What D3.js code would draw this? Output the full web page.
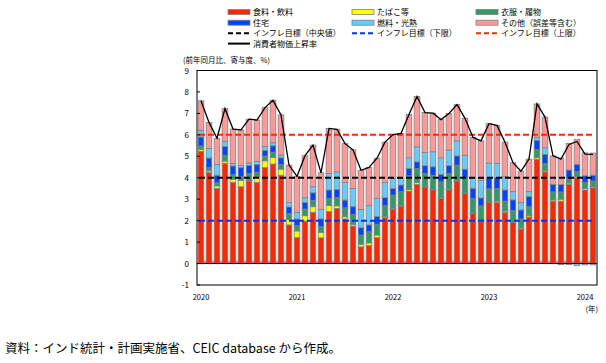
<!DOCTYPE html>
<html>
<head>
<meta charset="utf-8">
<script src="https://cdn.jsdelivr.net/npm/d3@7"></script>
<style>
  body { margin: 0; background: #fff; }
  text { font-family: "Noto Sans CJK JP", "Noto Sans", sans-serif; fill: #000; }
</style>
</head>
<body>
<svg id="chart" width="606" height="363"></svg>
<script>
    // categories / tick labels
    var months = d3.timeMonths(new Date(2020, 0, 1), new Date(2024, 2, 1));
    var yearLabels = ["2020", "2021", "2022", "2023", "2024"];
    var yTicks = [-1, 0, 1, 2, 3, 4, 5, 6, 7, 8, 9];

    // contributions (% pt)
    var food = [5.24,4.25,3.50,4.68,3.78,3.58,3.85,3.78,4.47,4.64,4.12,1.80,
                1.21,1.98,2.39,1.20,2.42,2.57,2.08,1.75,0.78,0.84,1.21,2.14,
                2.54,2.68,3.38,3.69,3.57,3.43,3.04,3.43,3.85,3.26,2.33,1.95,
                2.84,2.84,2.39,1.92,1.61,2.17,4.85,4.28,2.91,2.91,3.69,4.00,
                3.43,3.53];
    var tobacco = [0.09,0.07,0.12,0.10,0.15,0.30,0.04,0.28,0.32,0.30,0.28,0.26,
                   0.31,0.25,0.26,0.25,0.28,0.12,0.10,0.08,0.12,0.12,0.12,0.06,
                   0.02,0.02,0.08,0.08,0.02,0.02,0.02,0.02,0.02,0.02,0.02,0.04,
                   0.02,0.07,0.06,0.02,0.05,0.06,0.08,0.05,0.06,0.09,0.06,0.06,
                   0.07,0.05];
    var clothing = [0.15,0.15,0.15,0.27,0.22,0.17,0.30,0.20,0.22,0.25,0.22,0.27,
                    0.25,0.31,0.30,0.28,0.34,0.39,0.42,0.46,0.43,0.53,0.50,0.50,
                    0.63,0.65,0.63,0.66,0.61,0.67,0.75,0.75,0.72,0.72,0.69,0.70,
                    0.62,0.59,0.46,0.53,0.42,0.42,0.39,0.34,0.37,0.34,0.22,0.22,
                    0.28,0.27];
    var housing = [0.42,0.45,0.35,0.40,0.40,0.42,0.38,0.35,0.26,0.30,0.31,0.31,
                   0.31,0.31,0.35,0.35,0.39,0.37,0.36,0.36,0.34,0.31,0.36,0.37,
                   0.31,0.31,0.34,0.31,0.36,0.39,0.34,0.36,0.43,0.40,0.47,0.37,
                   0.50,0.50,0.52,0.50,0.42,0.47,0.42,0.42,0.34,0.34,0.39,0.34,
                   0.31,0.27];
    var fuel = [0.30,0.45,0.50,0.25,0.12,0.10,0.12,0.15,0.18,0.14,0.12,0.20,
                0.31,0.22,0.28,0.45,0.77,0.82,0.82,0.85,0.85,0.90,0.85,0.71,
                0.47,0.31,0.50,0.70,0.62,0.70,0.78,0.73,0.70,0.65,0.47,0.82,
                0.70,0.66,0.62,0.38,0.34,0.23,0.15,0.31,0.01,-0.05,-0.05,-0.10,
                -0.06,-0.06];
    var other = [1.39,1.21,1.22,1.52,1.60,1.66,2.04,1.93,1.82,1.98,1.88,1.75,
                 1.67,1.96,1.94,1.70,2.10,1.99,1.81,1.80,1.83,1.78,1.87,1.88,
                 2.04,2.10,2.02,2.35,1.86,1.80,1.78,1.71,1.69,1.72,1.90,1.84,
                 1.84,1.78,1.61,1.35,1.47,1.52,1.55,1.43,1.33,1.24,1.24,1.17,
                 1.07,1.03];
    // CPI yoy (%)
    var cpi = [7.59,6.58,5.84,7.22,6.27,6.23,6.73,6.69,7.27,7.61,6.93,4.59,
               4.06,5.03,5.52,4.23,6.30,6.26,5.59,5.30,4.35,4.48,4.91,5.66,
               6.01,6.07,6.95,7.79,7.04,7.01,6.71,7.00,7.41,6.77,5.88,5.72,
               6.52,6.44,5.66,4.70,4.31,4.87,7.44,6.83,5.02,4.87,5.55,5.69,
               5.10,5.09];
    var targetMid = 4, targetLow = 2, targetHigh = 6;

    var series = [
      {key: "food", name: "食料・飲料", color: "#ff2800", values: food},
      {key: "tobacco", name: "たばこ等", color: "#ffff00", values: tobacco},
      {key: "clothing", name: "衣服・履物", color: "#339966", values: clothing},
      {key: "housing", name: "住宅", color: "#0044ff", values: housing},
      {key: "fuel", name: "燃料・光熱", color: "#66ccff", values: fuel},
      {key: "other", name: "その他（誤差等含む）", color: "#ff9999", values: other}
    ];

    var svg = d3.select("#chart");
    var plotL = 197, plotR = 597, plotT = 70.5, plotB = 285;

    var table = months.map(function(m, i){
      var row = {month: m, cpi: cpi[i]};
      series.forEach(function(s){ row[s.key] = s.values[i]; });
      return row;
    });

    var x = d3.scaleBand()
        .domain(months)
        .range([plotL, plotR])
        .paddingInner(0.29)
        .paddingOuter(0.145);

    var y = d3.scaleLinear()
        .domain([-1, 9])
        .range([plotB, plotT]);

    var stack = d3.stack()
        .keys(series.map(function(s){ return s.key; }))
        .offset(d3.stackOffsetDiverging);

    var layers = stack(table);

    // plot frame
    svg.append("rect")
        .attr("x", plotL).attr("y", plotT)
        .attr("width", plotR - plotL).attr("height", plotB - plotT)
        .attr("fill", "#fff").attr("stroke", "#000").attr("stroke-width", 1);

    // bars
    svg.append("g").selectAll("g")
      .data(layers)
      .join("g")
        .attr("fill", function(d, i){ return series[i].color; })
      .selectAll("rect")
      .data(function(d){ return d; })
      .join("rect")
        .attr("x", function(d){ return x(d.data.month); })
        .attr("width", x.bandwidth())
        .attr("y", function(d){ return y(Math.max(d[0], d[1])); })
        .attr("height", function(d){ return Math.abs(y(d[0]) - y(d[1])); })
        .attr("stroke", "#808080")
        .attr("stroke-width", 0.8);

    // zero line + category ticks
    svg.append("line")
        .attr("x1", plotL).attr("x2", plotR)
        .attr("y1", y(0)).attr("y2", y(0))
        .attr("stroke", "#000").attr("stroke-width", 1);

    svg.append("g").selectAll("line")
      .data(months.slice(1))
      .join("line")
        .attr("x1", function(d){ return x(d) - x.step() * x.paddingInner() / 2; })
        .attr("x2", function(d){ return x(d) - x.step() * x.paddingInner() / 2; })
        .attr("y1", y(0) - 3).attr("y2", y(0))
        .attr("stroke", "#333").attr("stroke-width", 0.8);

    // target lines
    var targets = [
      {v: targetMid, color: "#000"},
      {v: targetLow, color: "#0033ff"},
      {v: targetHigh, color: "#ff2800"}
    ];
    svg.append("g").selectAll("line")
      .data(targets)
      .join("line")
        .attr("x1", plotL + 2).attr("x2", plotR - 2)
        .attr("y1", function(d){ return y(d.v); })
        .attr("y2", function(d){ return y(d.v); })
        .attr("stroke", function(d){ return d.color; })
        .attr("stroke-width", 2)
        .attr("stroke-dasharray", "6,3");

    // CPI line
    var line = d3.line()
        .x(function(d){ return x(d.month) + x.bandwidth() / 2; })
        .y(function(d){ return y(d.cpi); });

    svg.append("path")
        .datum(table)
        .attr("d", line)
        .attr("fill", "none")
        .attr("stroke", "#000")
        .attr("stroke-width", 1.3);

    // y axis ticks + labels
    svg.append("g").selectAll("line")
      .data(yTicks)
      .join("line")
        .attr("x1", plotL).attr("x2", plotL + 3)
        .attr("y1", function(d){ return y(d); })
        .attr("y2", function(d){ return y(d); })
        .attr("stroke", "#000");

    svg.append("g").selectAll("text")
      .data(yTicks)
      .join("text")
        .attr("x", 189)
        .attr("y", function(d){ return y(d) + 3; })
        .attr("text-anchor", "end")
        .attr("font-size", 8)
        .text(function(d){ return d; });

    svg.append("text")
        .attr("x", 183).attr("y", 63)
        .attr("font-size", 7.5)
        .text("(前年同月比、寄与度、%)");

    // year labels
    svg.append("g").selectAll("text")
      .data(yearLabels)
      .join("text")
        .attr("x", function(d){ return x(new Date(+d, 0, 1)) + x.bandwidth() / 2; })
        .attr("y", 300)
        .attr("text-anchor", "middle")
        .attr("font-size", 7.5)
        .text(function(d){ return d; });

    svg.append("text")
        .attr("x", 598).attr("y", 312)
        .attr("text-anchor", "end")
        .attr("font-size", 7.5)
        .text("(年)");

    // legend
    var colX = [228, 352, 476], rowY = [12, 22.7, 33.2, 43.6];
    var legend = svg.append("g");
    series.forEach(function(s, i){
      var cx = colX[i % 3], cy = rowY[Math.floor(i / 3)];
      legend.append("rect")
          .attr("x", cx).attr("y", cy - 2.5)
          .attr("width", 22).attr("height", 5)
          .attr("fill", s.color).attr("stroke", "#808080").attr("stroke-width", 0.8);
      legend.append("text")
          .attr("x", cx + 25).attr("y", cy + 3)
          .attr("font-size", 8)
          .text(s.name);
    });
    var lineItems = [
      {name: "インフレ目標（中央値）", color: "#000", dash: "5,3", w: 2},
      {name: "インフレ目標（下限）", color: "#0033ff", dash: "5,3", w: 2},
      {name: "インフレ目標（上限）", color: "#ff2800", dash: "5,3", w: 2},
      {name: "消費者物価上昇率", color: "#000", dash: null, w: 2}
    ];
    lineItems.forEach(function(s, i){
      var cx = colX[i % 3], cy = rowY[2 + Math.floor(i / 3)];
      legend.append("line")
          .attr("x1", cx).attr("x2", cx + 22)
          .attr("y1", cy).attr("y2", cy)
          .attr("stroke", s.color).attr("stroke-width", s.w)
          .attr("stroke-dasharray", s.dash);
      legend.append("text")
          .attr("x", cx + 25).attr("y", cy + 3)
          .attr("font-size", 8)
          .text(s.name);
    });

    // source
    svg.append("text")
        .attr("x", 5).attr("y", 353)
        .attr("font-size", 12.5)
        .text("資料：インド統計・計画実施省、CEIC database から作成。");
</script>
</body>
</html>
